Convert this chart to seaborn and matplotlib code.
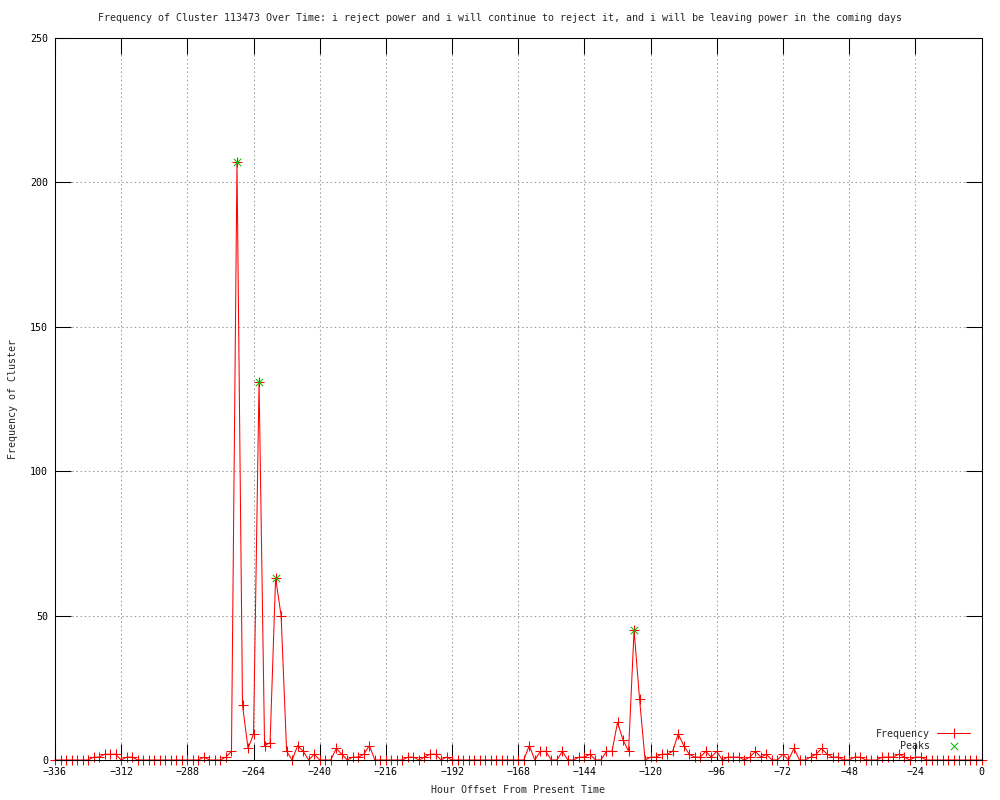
import matplotlib
matplotlib.use("Agg")
import matplotlib.pyplot as plt
import seaborn as sns

# hours before now, sampled every 2 h
hours = list(range(-336, 1, 2))

# cluster frequency, one row per 24 h
frequency = [
    0, 0, 0, 0, 0, 0, 0, 1, 1, 2, 2, 2,          # -336 .. -314
    0, 1, 1, 0, 0, 0, 0, 0, 0, 0, 0, 0,          # -312 .. -290
    0, 0, 0, 1, 0, 0, 0, 1, 3, 207, 19, 4,       # -288 .. -266
    9, 131, 5, 6, 63, 50, 3, 0, 5, 3, 0, 2,      # -264 .. -242
    0, 0, 0, 4, 2, 0, 1, 1, 2, 5, 0, 0,          # -240 .. -218
    0, 0, 0, 0, 1, 1, 0, 1, 2, 2, 0, 1,          # -216 .. -194
    0, 0, 0, 0, 0, 0, 0, 0, 0, 0, 0, 0,          # -192 .. -170
    0, 0, 5, 0, 3, 3, 0, 0, 3, 0, 0, 1,          # -168 .. -146
    1, 2, 0, 0, 3, 3, 13, 7, 3, 45, 21, 0,       # -144 .. -122
    1, 1, 2, 2, 3, 9, 5, 2, 1, 1, 3, 1,          # -120 .. -98
    3, 0, 1, 1, 1, 0, 1, 3, 1, 2, 0, 0,          # -96 .. -74
    2, 0, 4, 0, 0, 1, 2, 4, 2, 1, 1, 0,          # -72 .. -50
    0, 1, 1, 0, 0, 0, 1, 1, 1, 2, 1, 0,          # -48 .. -26
    1, 1, 0, 0, 0, 0, 0, 0, 0, 0, 0, 0,          # -24 .. -2
    0,                                           # 0
]

peak_hours = [-270, -262, -256, -126]
peak_values = [207, 131, 63, 45]

x_ticks = list(range(-336, 1, 24))
y_ticks = [0, 50, 100, 150, 200, 250]

title = ("Frequency of Cluster 113473 Over Time: i reject power and i will "
         "continue to reject it, and i will be leaving power in the coming days")

sns.set_theme(style="ticks")
plt.rcParams["font.family"] = ["DejaVu Sans Mono"]
plt.rcParams["font.size"] = 7.2

fig = plt.figure(figsize=(10, 8), dpi=100)
ax = fig.add_axes([0.055, 0.05, 0.9265, 0.9025])

# gnuplot-style linespoints: red line with "+" at every sample
sns.lineplot(x=hours, y=frequency, color="#ff0000", linewidth=0.75,
             marker="+", markersize=6.5, markeredgewidth=0.75,
             markeredgecolor="#ff0000", label="Frequency", clip_on=False,
             ax=ax)
sns.scatterplot(x=peak_hours, y=peak_values, color="#00c000", marker="x",
                s=28, linewidth=0.75, label="Peaks", zorder=3, ax=ax)

ax.set_xlim(-336, 0)
ax.set_ylim(0, 250)
ax.set_xticks(x_ticks)
ax.set_yticks(y_ticks)
ax.tick_params(direction="in", length=11.5, width=0.75, top=True, right=True,
               labelsize=7.2, pad=5, colors="black")
ax.grid(True, color="#a0a0a0", linestyle=(0, (1.5, 2.5)), linewidth=0.75)
ax.set_axisbelow(True)
for s in ax.spines.values():
    s.set_color("black")
    s.set_linewidth(0.75)

ax.set_xlabel("Hour Offset From Present Time", fontsize=7.2, labelpad=6)
ax.set_ylabel("Frequency of Cluster", fontsize=7.2, labelpad=9)
fig.text(0.5, 1 - 18 / 800, title, ha="center", va="center", fontsize=7.2)

ax.legend(loc="lower right", bbox_to_anchor=(0.9876, 0.0125), frameon=False,
          markerfirst=False, handlelength=3.3, handletextpad=0.7,
          labelspacing=0.2, borderpad=0, borderaxespad=0, fontsize=7.2)

fig.savefig("out.png", dpi=100, facecolor="white")
